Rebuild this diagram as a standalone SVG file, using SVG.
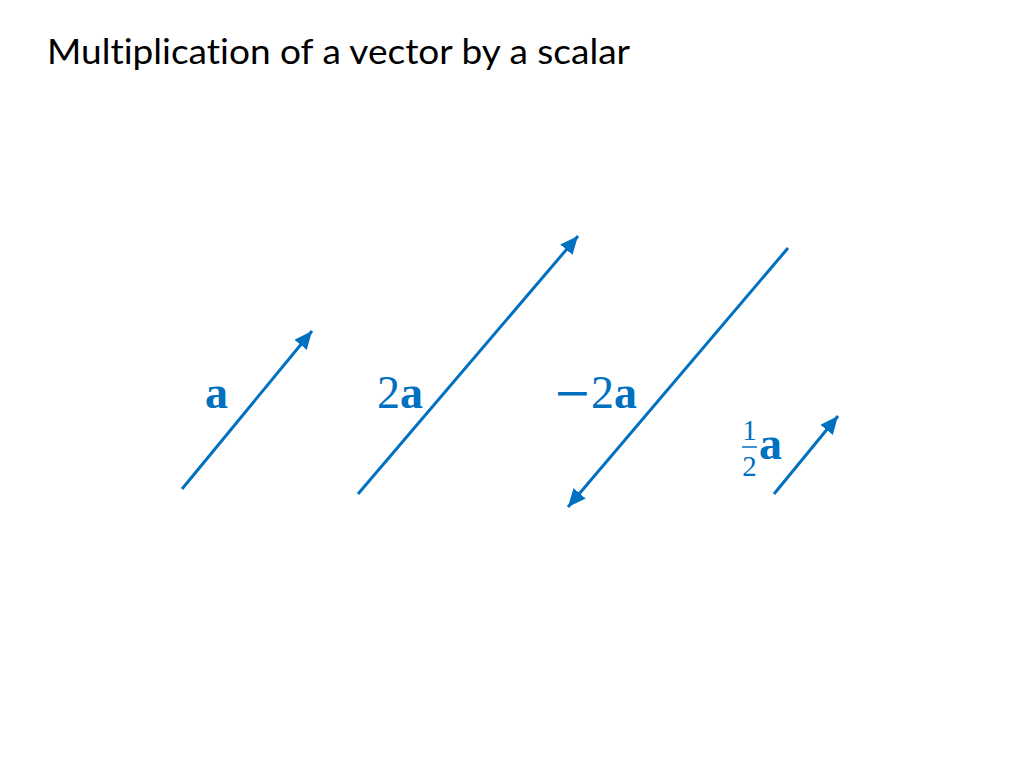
<svg xmlns="http://www.w3.org/2000/svg" width="1024" height="768" viewBox="0 0 1024 768">
<style>
.vec{stroke:#0070C0;stroke-width:3;fill:none}
.lbl{font-family:"Liberation Serif","DejaVu Serif",serif;font-size:46px;fill:#0070C0}
.b{font-weight:bold}
.minus{font-family:"DejaVu Serif","Liberation Serif",serif;font-size:46px}
.frac{font-family:"Liberation Serif","DejaVu Serif",serif;font-size:29px;fill:#0070C0}
.title{font-family:Lato,"Open Sans","Liberation Sans",sans-serif;font-size:34px;fill:#000;font-variant-ligatures:none}
</style>
<defs>
<marker id="arr" markerUnits="userSpaceOnUse" markerWidth="20" markerHeight="16" viewBox="0 0 20 16" refX="18" refY="8" orient="auto">
<path d="M0,0 L18,8 L0,16 Z" fill="#0070C0"/>
</marker>
</defs>
<rect width="1024" height="768" fill="#fff"/>
<text class="title" x="47" y="64" textLength="583" lengthAdjust="spacingAndGlyphs">Multiplication of a vector by a scalar</text>
<g id="connectors">
<line id="v-a" class="vec" x1="182" y1="489" x2="312" y2="331" marker-end="url(#arr)"/>
<line id="v-2a" class="vec" x1="358" y1="494" x2="578" y2="236" marker-end="url(#arr)"/>
<line id="v-m2a" class="vec" x1="788" y1="248" x2="568" y2="507" marker-end="url(#arr)"/>
<line id="v-half" class="vec" x1="774" y1="494" x2="838" y2="416" marker-end="url(#arr)"/>
</g>
<g id="label-a"><text class="lbl b" x="205" y="408">a</text></g>
<g id="label-2a"><text class="lbl" x="377" y="408">2<tspan class="b">a</tspan></text></g>
<g id="label-m2a"><text class="lbl" x="553" y="408"><tspan class="minus">−</tspan><tspan x="591">2</tspan><tspan class="b">a</tspan></text></g>
<g id="label-half">
<text class="frac" x="749.5" y="440" text-anchor="middle">1</text>
<line x1="742" y1="447" x2="757" y2="447" stroke="#0070C0" stroke-width="1.5"/>
<text class="frac" x="749.5" y="476" text-anchor="middle">2</text>
<text class="lbl b" x="759" y="459" font-size="44">a</text>
</g>
</svg>
